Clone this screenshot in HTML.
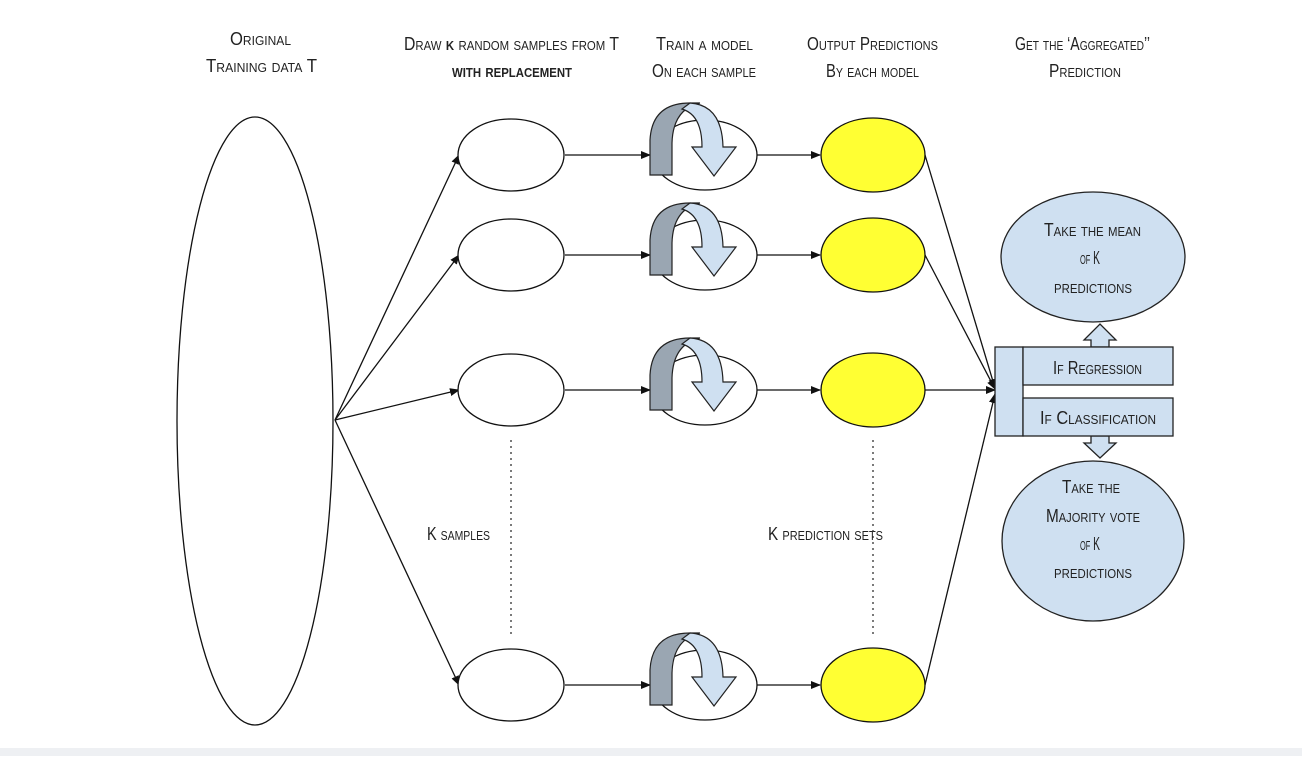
<!DOCTYPE html>
<html><head><style>
body{margin:0;background:#fff;}
svg text{font-family:"Liberation Sans",sans-serif;font-variant:small-caps;fill:#222;}
</style></head><body>
<svg width="1302" height="756" viewBox="0 0 1302 756" xmlns="http://www.w3.org/2000/svg">
<defs>
<marker id="a" markerWidth="10" markerHeight="8" refX="9" refY="4" orient="auto" markerUnits="userSpaceOnUse"><path d="M0,0 L10,4 L0,8 Z" fill="#111"/></marker>
<g id="curl">
<path d="M650,20 L650,-15 Q652,-52 690,-52 L700,-52 Q673,-46 672,-12 L672,20 Z" fill="#9aa6b2" stroke="#222" stroke-width="1.2"/>
<path d="M690,-52 Q722,-50 723,-8 L736,-8 L714,21 L692,-8 L702,-8 Q702,-40 682,-46 Z" fill="#cfe0f1" stroke="#222" stroke-width="1.2"/>
</g>
</defs>
<rect x="0" y="748" width="1302" height="8" fill="#eef0f3"/>
<g font-size="18" lengthAdjust="spacingAndGlyphs">
<text x="230" y="45" textLength="61" lengthAdjust="spacingAndGlyphs">Original</text>
<text x="206" y="72" textLength="111" lengthAdjust="spacingAndGlyphs">Training data T</text>
<text x="404" y="50" textLength="215" lengthAdjust="spacingAndGlyphs">Draw <tspan font-weight="bold">k</tspan> random samples from T</text>
<text x="452" y="77" textLength="120" lengthAdjust="spacingAndGlyphs" font-weight="bold">with replacement</text>
<text x="656" y="50" textLength="97" lengthAdjust="spacingAndGlyphs">Train a model</text>
<text x="652" y="77" textLength="104" lengthAdjust="spacingAndGlyphs">On each sample</text>
<text x="807" y="50" textLength="131" lengthAdjust="spacingAndGlyphs">Output Predictions</text>
<text x="826" y="77" textLength="93" lengthAdjust="spacingAndGlyphs">By each model</text>
<text x="1015" y="50" textLength="135" lengthAdjust="spacingAndGlyphs">Get the ‘Aggregated’’</text>
<text x="1049" y="77" textLength="72" lengthAdjust="spacingAndGlyphs">Prediction</text>
<text x="427" y="540" textLength="63" lengthAdjust="spacingAndGlyphs">K samples</text>
<text x="768" y="540" textLength="115" lengthAdjust="spacingAndGlyphs">K prediction sets</text>
</g>
<ellipse cx="255" cy="421" rx="78" ry="304" fill="#fff" stroke="#111" stroke-width="1.3"/>
<g stroke="#111" stroke-width="1.3" fill="none" marker-end="url(#a)">
<line x1="335" y1="420" x2="459" y2="155"/>
<line x1="335" y1="420" x2="459" y2="255"/>
<line x1="335" y1="420" x2="459" y2="390"/>
<line x1="335" y1="420" x2="459" y2="685"/>
</g>
<g stroke="#333" stroke-width="1.3" stroke-dasharray="2,4">
<line x1="511" y1="440" x2="511" y2="635"/><line x1="873" y1="440" x2="873" y2="635"/>
</g>
<g id="r1" transform="translate(0,155)">
<ellipse cx="511" cy="0" rx="53" ry="36" fill="#fff" stroke="#111" stroke-width="1.3"/>
<line x1="565" y1="0" x2="650" y2="0" stroke="#111" stroke-width="1.3" marker-end="url(#a)"/>
<ellipse cx="705" cy="0" rx="52" ry="35" fill="#fff" stroke="#111" stroke-width="1.3"/>
<use href="#curl"/>
<line x1="757" y1="0" x2="820" y2="0" stroke="#111" stroke-width="1.3" marker-end="url(#a)"/>
<ellipse cx="873" cy="0" rx="52" ry="37" fill="#ffff33" stroke="#111" stroke-width="1.3"/>
</g>
<use href="#r1" transform="translate(0,100)"/>
<use href="#r1" transform="translate(0,235)"/>
<use href="#r1" transform="translate(0,530)"/>
<g stroke="#111" stroke-width="1.3" marker-end="url(#a)">
<line x1="925" y1="155" x2="995" y2="388"/>
<line x1="925" y1="255" x2="995" y2="389"/>
<line x1="925" y1="390" x2="995" y2="390"/>
<line x1="925" y1="685" x2="995" y2="394"/>
</g>
<g fill="#cfe0f1" stroke="#222" stroke-width="1.3">
<path d="M1091,347 L1091,340 L1084,340 L1100,324 L1116,340 L1109,340 L1109,347 Z"/>
<path d="M1091,436 L1091,443 L1084,443 L1100,458 L1116,443 L1109,443 L1109,436 Z"/>
<rect x="995" y="347" width="28" height="89"/>
<rect x="1023" y="347" width="150" height="38"/>
<rect x="1023" y="398" width="150" height="38"/>
<ellipse cx="1093" cy="257" rx="92" ry="65"/>
<ellipse cx="1093" cy="541" rx="91" ry="80"/>
</g>
<g font-size="18">
<text x="1053" y="374" textLength="89" lengthAdjust="spacingAndGlyphs">If Regression</text>
<text x="1040" y="424" textLength="116" lengthAdjust="spacingAndGlyphs">If Classification</text>
<text x="1044" y="236" textLength="97" lengthAdjust="spacingAndGlyphs">Take the mean</text>
<text x="1080" y="264" textLength="20" lengthAdjust="spacingAndGlyphs">of K</text>
<text x="1054" y="293" textLength="78" lengthAdjust="spacingAndGlyphs">predictions</text>
<text x="1062" y="493" textLength="58" lengthAdjust="spacingAndGlyphs">Take the</text>
<text x="1046" y="522" textLength="94" lengthAdjust="spacingAndGlyphs">Majority vote</text>
<text x="1080" y="550" textLength="20" lengthAdjust="spacingAndGlyphs">of K</text>
<text x="1054" y="578" textLength="78" lengthAdjust="spacingAndGlyphs">predictions</text>
</g>
</svg>
</body></html>
